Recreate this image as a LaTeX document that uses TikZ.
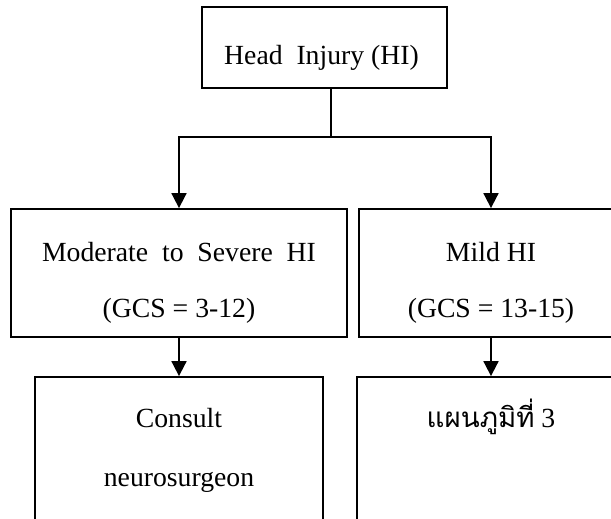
\documentclass[tikz,border=0pt]{standalone}
\usepackage{fontspec}
\setmainfont{Liberation Serif}
\newfontfamily\thaifont[Script=Thai]{Loma}
\usetikzlibrary{arrows.meta,calc}
\tikzset{
  box/.style={draw, line width=1.8pt, inner sep=0pt},
  txt/.style={anchor=base, inner sep=0pt, font=\fontsize{27.7}{33}\selectfont},
  arr/.style={line width=1.8pt, -{Triangle[width=15pt,length=15pt]}}
}
\begin{document}
\begin{tikzpicture}[x=1pt,y=-1pt]
    \useasboundingbox (0,0) rectangle (611,519);
    \clip (0,0) rectangle (611,519);
    % Draw the boxes
    \node[box, minimum width=245pt, minimum height=81pt] (head) at (324.5,47.5) {};
    \node[box, minimum width=336pt, minimum height=128pt] (mod) at (179,273) {};
    \node[box, minimum width=264pt, minimum height=128pt] (mild) at (491,273) {};
    \node[box, minimum width=288pt, minimum height=183pt] (cons) at (179,468.5) {};
    \node[box, minimum width=268pt, minimum height=183pt] (plan) at (491,468.5) {};
    % Texts in the boxes
    \node[txt] (headtxt) at (321.5,65) {Head\ \ Injury (HI)};
    \node[txt] (modtxt) at (179,261) {Moderate\ \ to\ \ Severe\ \ HI};
    \node[txt] (modgcs) at (179,317) {(GCS = 3-12)};
    \node[txt] (mildtxt) at (491,261) {Mild HI};
    \node[txt] (mildgcs) at (491,317) {(GCS = 13-15)};
    \node[txt] (constxt) at (179,427) {Consult};
    \node[txt] (neurotxt) at (179,486) {neurosurgeon};
    \node[txt] (plantxt) at (491,427) {{\thaifont แผนภูมิที่} 3};
    % Draw the connectors
    \coordinate (split) at (331,137);
    \draw[line width=1.8pt] (head.south -| split) -- (split);
    \draw[arr] (split) -| (mod.north);
    \draw[arr] (split) -| (mild.north);
    \draw[arr] (mod.south) -- (cons.north);
    \draw[arr] (mild.south) -- (plan.north);
\end{tikzpicture}
\end{document}
